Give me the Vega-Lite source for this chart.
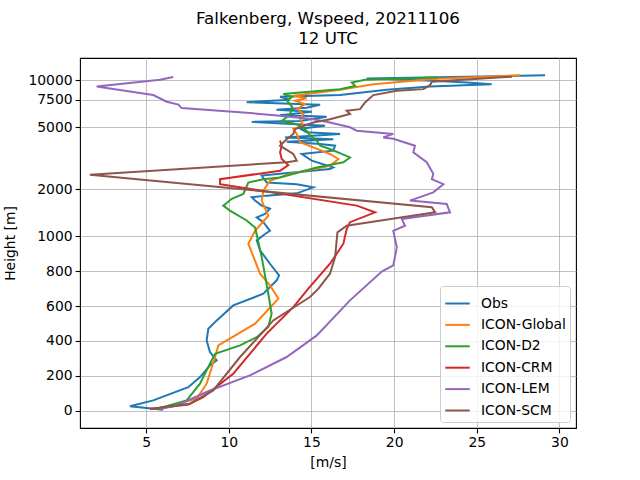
{
  "$schema": "https://vega.github.io/schema/vega-lite/v6.json",
  "width": 496,
  "height": 370,
  "autosize": {"type": "none"},
  "padding": {"left": 80, "top": 58, "right": 64, "bottom": 52},
  "background": "white",
  "title": {
    "text": ["Falkenberg, Wspeed, 20211106", "12 UTC"],
    "font": "DejaVu Sans",
    "fontSize": 16.7,
    "fontWeight": "normal",
    "color": "black",
    "lineHeight": 20,
    "offset": 10,
    "anchor": "middle"
  },
  "config": {
    "font": "DejaVu Sans",
    "view": {"stroke": "black", "strokeWidth": 1.1},
    "axis": {
      "domain": false,
      "grid": true,
      "gridColor": "#b0b0b0",
      "gridWidth": 0.8,
      "tickColor": "black",
      "tickSize": 4.9,
      "tickWidth": 1.1,
      "labelFont": "DejaVu Sans",
      "labelFontSize": 13.9,
      "labelColor": "black",
      "labelPadding": 3,
      "titleFont": "DejaVu Sans",
      "titleFontSize": 13.9,
      "titleFontWeight": "normal",
      "titleColor": "black"
    }
  },
  "data": {
    "values": [
      {"model": "Obs", "h": 5, "s": 6.02},
      {"model": "Obs", "h": 25, "s": 4.02},
      {"model": "Obs", "h": 59, "s": 5.43},
      {"model": "Obs", "h": 135, "s": 7.55},
      {"model": "Obs", "h": 193, "s": 8.26},
      {"model": "Obs", "h": 260, "s": 8.86},
      {"model": "Obs", "h": 289, "s": 9.27},
      {"model": "Obs", "h": 336, "s": 8.86},
      {"model": "Obs", "h": 403, "s": 8.66},
      {"model": "Obs", "h": 470, "s": 8.76},
      {"model": "Obs", "h": 518, "s": 9.27},
      {"model": "Obs", "h": 604, "s": 10.27},
      {"model": "Obs", "h": 671, "s": 12.09},
      {"model": "Obs", "h": 748, "s": 12.9},
      {"model": "Obs", "h": 776, "s": 13.04},
      {"model": "Obs", "h": 843, "s": 12.49},
      {"model": "Obs", "h": 920, "s": 11.89},
      {"model": "Obs", "h": 977, "s": 11.69},
      {"model": "Obs", "h": 1040, "s": 12.19},
      {"model": "Obs", "h": 1092, "s": 12.49},
      {"model": "Obs", "h": 1235, "s": 12.09},
      {"model": "Obs", "h": 1329, "s": 11.69},
      {"model": "Obs", "h": 1397, "s": 12.19},
      {"model": "Obs", "h": 1504, "s": 12.49},
      {"model": "Obs", "h": 1579, "s": 11.99},
      {"model": "Obs", "h": 1700, "s": 11.59},
      {"model": "Obs", "h": 1784, "s": 11.39},
      {"model": "Obs", "h": 1829, "s": 12.29},
      {"model": "Obs", "h": 1892, "s": 14.11},
      {"model": "Obs", "h": 2068, "s": 15.11},
      {"model": "Obs", "h": 2174, "s": 14.11},
      {"model": "Obs", "h": 2226, "s": 12.29},
      {"model": "Obs", "h": 2457, "s": 11.99},
      {"model": "Obs", "h": 2519, "s": 13.1},
      {"model": "Obs", "h": 2711, "s": 16.12},
      {"model": "Obs", "h": 2776, "s": 16.32},
      {"model": "Obs", "h": 3064, "s": 15.02},
      {"model": "Obs", "h": 3382, "s": 14.41},
      {"model": "Obs", "h": 3549, "s": 16.32},
      {"model": "Obs", "h": 3822, "s": 16.43},
      {"model": "Obs", "h": 3918, "s": 15.52},
      {"model": "Obs", "h": 4053, "s": 13.5},
      {"model": "Obs", "h": 4205, "s": 16.32},
      {"model": "Obs", "h": 4319, "s": 13.4},
      {"model": "Obs", "h": 4541, "s": 16.73},
      {"model": "Obs", "h": 4649, "s": 14.71},
      {"model": "Obs", "h": 4909, "s": 14.31},
      {"model": "Obs", "h": 5131, "s": 15.82},
      {"model": "Obs", "h": 5442, "s": 11.39},
      {"model": "Obs", "h": 5523, "s": 14.31},
      {"model": "Obs", "h": 5860, "s": 15.92},
      {"model": "Obs", "h": 5991, "s": 13.1},
      {"model": "Obs", "h": 6305, "s": 15.02},
      {"model": "Obs", "h": 6494, "s": 12.88},
      {"model": "Obs", "h": 6689, "s": 14.71},
      {"model": "Obs", "h": 6991, "s": 15.52},
      {"model": "Obs", "h": 7253, "s": 11.08},
      {"model": "Obs", "h": 7525, "s": 13.7},
      {"model": "Obs", "h": 7865, "s": 13.1},
      {"model": "Obs", "h": 8066, "s": 16.73},
      {"model": "Obs", "h": 8721, "s": 19.55},
      {"model": "Obs", "h": 9155, "s": 22.17},
      {"model": "Obs", "h": 9484, "s": 25.9},
      {"model": "Obs", "h": 9710, "s": 24.39},
      {"model": "Obs", "h": 9956, "s": 22.37},
      {"model": "Obs", "h": 10299, "s": 18.34},
      {"model": "Obs", "h": 10827, "s": 29.13},

      {"model": "ICON-Global", "h": 10, "s": 5.64},
      {"model": "ICON-Global", "h": 69, "s": 8.06},
      {"model": "ICON-Global", "h": 155, "s": 8.66},
      {"model": "ICON-Global", "h": 308, "s": 9.17},
      {"model": "ICON-Global", "h": 375, "s": 9.37},
      {"model": "ICON-Global", "h": 499, "s": 11.59},
      {"model": "ICON-Global", "h": 643, "s": 13.0},
      {"model": "ICON-Global", "h": 719, "s": 12.49},
      {"model": "ICON-Global", "h": 786, "s": 11.89},
      {"model": "ICON-Global", "h": 958, "s": 11.18},
      {"model": "ICON-Global", "h": 1092, "s": 11.59},
      {"model": "ICON-Global", "h": 1363, "s": 12.39},
      {"model": "ICON-Global", "h": 1700, "s": 11.99},
      {"model": "ICON-Global", "h": 1970, "s": 12.09},
      {"model": "ICON-Global", "h": 2282, "s": 12.49},
      {"model": "ICON-Global", "h": 2519, "s": 13.7},
      {"model": "ICON-Global", "h": 2847, "s": 16.12},
      {"model": "ICON-Global", "h": 3142, "s": 16.63},
      {"model": "ICON-Global", "h": 3382, "s": 16.12},
      {"model": "ICON-Global", "h": 3727, "s": 15.11},
      {"model": "ICON-Global", "h": 4011, "s": 14.31},
      {"model": "ICON-Global", "h": 4541, "s": 14.11},
      {"model": "ICON-Global", "h": 4887, "s": 13.9},
      {"model": "ICON-Global", "h": 5131, "s": 14.51},
      {"model": "ICON-Global", "h": 5689, "s": 14.31},
      {"model": "ICON-Global", "h": 6095, "s": 14.51},
      {"model": "ICON-Global", "h": 6561, "s": 14.13},
      {"model": "ICON-Global", "h": 7063, "s": 14.61},
      {"model": "ICON-Global", "h": 7416, "s": 14.01},
      {"model": "ICON-Global", "h": 7692, "s": 14.71},
      {"model": "ICON-Global", "h": 7982, "s": 13.9},
      {"model": "ICON-Global", "h": 8721, "s": 16.73},
      {"model": "ICON-Global", "h": 9484, "s": 18.74},
      {"model": "ICON-Global", "h": 10209, "s": 22.37},
      {"model": "ICON-Global", "h": 10827, "s": 27.62},

      {"model": "ICON-D2", "h": 10, "s": 5.64},
      {"model": "ICON-D2", "h": 59, "s": 7.45},
      {"model": "ICON-D2", "h": 155, "s": 8.26},
      {"model": "ICON-D2", "h": 270, "s": 8.86},
      {"model": "ICON-D2", "h": 327, "s": 9.17},
      {"model": "ICON-D2", "h": 375, "s": 10.68},
      {"model": "ICON-D2", "h": 422, "s": 11.69},
      {"model": "ICON-D2", "h": 480, "s": 12.39},
      {"model": "ICON-D2", "h": 557, "s": 12.59},
      {"model": "ICON-D2", "h": 671, "s": 12.39},
      {"model": "ICON-D2", "h": 881, "s": 11.99},
      {"model": "ICON-D2", "h": 1147, "s": 11.59},
      {"model": "ICON-D2", "h": 1266, "s": 11.08},
      {"model": "ICON-D2", "h": 1467, "s": 10.07},
      {"model": "ICON-D2", "h": 1579, "s": 9.67},
      {"model": "ICON-D2", "h": 1742, "s": 10.18},
      {"model": "ICON-D2", "h": 1876, "s": 10.88},
      {"model": "ICON-D2", "h": 2226, "s": 11.18},
      {"model": "ICON-D2", "h": 2340, "s": 12.09},
      {"model": "ICON-D2", "h": 2396, "s": 13.1},
      {"model": "ICON-D2", "h": 2776, "s": 15.32},
      {"model": "ICON-D2", "h": 2988, "s": 16.93},
      {"model": "ICON-D2", "h": 3217, "s": 17.33},
      {"model": "ICON-D2", "h": 3640, "s": 16.12},
      {"model": "ICON-D2", "h": 3822, "s": 15.52},
      {"model": "ICON-D2", "h": 4113, "s": 15.32},
      {"model": "ICON-D2", "h": 4428, "s": 14.91},
      {"model": "ICON-D2", "h": 4768, "s": 14.71},
      {"model": "ICON-D2", "h": 5260, "s": 14.11},
      {"model": "ICON-D2", "h": 5523, "s": 13.2},
      {"model": "ICON-D2", "h": 6034, "s": 13.7},
      {"model": "ICON-D2", "h": 6788, "s": 13.83},
      {"model": "ICON-D2", "h": 7416, "s": 13.52},
      {"model": "ICON-D2", "h": 7865, "s": 13.83},
      {"model": "ICON-D2", "h": 8185, "s": 13.3},
      {"model": "ICON-D2", "h": 8380, "s": 14.31},
      {"model": "ICON-D2", "h": 8810, "s": 16.73},
      {"model": "ICON-D2", "h": 9250, "s": 17.64},
      {"model": "ICON-D2", "h": 9710, "s": 17.44},
      {"model": "ICON-D2", "h": 10104, "s": 18.24},
      {"model": "ICON-D2", "h": 10484, "s": 22.6},

      {"model": "ICON-CRM", "h": 10, "s": 5.23},
      {"model": "ICON-CRM", "h": 36, "s": 7.55},
      {"model": "ICON-CRM", "h": 78, "s": 8.46},
      {"model": "ICON-CRM", "h": 212, "s": 10.27},
      {"model": "ICON-CRM", "h": 442, "s": 12.29},
      {"model": "ICON-CRM", "h": 594, "s": 13.9},
      {"model": "ICON-CRM", "h": 700, "s": 14.81},
      {"model": "ICON-CRM", "h": 843, "s": 16.12},
      {"model": "ICON-CRM", "h": 958, "s": 16.93},
      {"model": "ICON-CRM", "h": 1120, "s": 17.13},
      {"model": "ICON-CRM", "h": 1235, "s": 17.33},
      {"model": "ICON-CRM", "h": 1431, "s": 18.85},
      {"model": "ICON-CRM", "h": 1579, "s": 17.74},
      {"model": "ICON-CRM", "h": 2174, "s": 9.47},
      {"model": "ICON-CRM", "h": 2340, "s": 9.47},
      {"model": "ICON-CRM", "h": 2644, "s": 13.1},
      {"model": "ICON-CRM", "h": 2876, "s": 13.6},
      {"model": "ICON-CRM", "h": 3142, "s": 13.2},
      {"model": "ICON-CRM", "h": 3462, "s": 13.1},
      {"model": "ICON-CRM", "h": 3822, "s": 13.2},
      {"model": "ICON-CRM", "h": 4113, "s": 13.1},

      {"model": "ICON-LEM", "h": 10, "s": 5.84},
      {"model": "ICON-LEM", "h": 30, "s": 6.85},
      {"model": "ICON-LEM", "h": 116, "s": 8.86},
      {"model": "ICON-LEM", "h": 203, "s": 11.28},
      {"model": "ICON-LEM", "h": 308, "s": 13.5},
      {"model": "ICON-LEM", "h": 432, "s": 15.32},
      {"model": "ICON-LEM", "h": 633, "s": 17.33},
      {"model": "ICON-LEM", "h": 800, "s": 19.27},
      {"model": "ICON-LEM", "h": 834, "s": 19.95},
      {"model": "ICON-LEM", "h": 937, "s": 20.16},
      {"model": "ICON-LEM", "h": 1092, "s": 19.95},
      {"model": "ICON-LEM", "h": 1176, "s": 20.66},
      {"model": "ICON-LEM", "h": 1298, "s": 20.46},
      {"model": "ICON-LEM", "h": 1431, "s": 23.38},
      {"model": "ICON-LEM", "h": 1619, "s": 23.18},
      {"model": "ICON-LEM", "h": 1700, "s": 20.96},
      {"model": "ICON-LEM", "h": 1920, "s": 22.37},
      {"model": "ICON-LEM", "h": 2174, "s": 22.98},
      {"model": "ICON-LEM", "h": 2340, "s": 22.28},
      {"model": "ICON-LEM", "h": 2519, "s": 22.37},
      {"model": "ICON-LEM", "h": 2988, "s": 21.97},
      {"model": "ICON-LEM", "h": 3462, "s": 21.16},
      {"model": "ICON-LEM", "h": 3822, "s": 21.26},
      {"model": "ICON-LEM", "h": 4236, "s": 19.95},
      {"model": "ICON-LEM", "h": 4319, "s": 19.34},
      {"model": "ICON-LEM", "h": 4541, "s": 19.95},
      {"model": "ICON-LEM", "h": 4768, "s": 17.74},
      {"model": "ICON-LEM", "h": 5005, "s": 17.33},
      {"model": "ICON-LEM", "h": 5387, "s": 16.12},
      {"model": "ICON-LEM", "h": 5663, "s": 15.11},
      {"model": "ICON-LEM", "h": 5945, "s": 13.1},
      {"model": "ICON-LEM", "h": 6185, "s": 11.28},
      {"model": "ICON-LEM", "h": 6660, "s": 7.15},
      {"model": "ICON-LEM", "h": 6991, "s": 6.95},
      {"model": "ICON-LEM", "h": 7307, "s": 6.25},
      {"model": "ICON-LEM", "h": 8066, "s": 5.43},
      {"model": "ICON-LEM", "h": 9155, "s": 2.01},
      {"model": "ICON-LEM", "h": 10104, "s": 5.84},
      {"model": "ICON-LEM", "h": 10561, "s": 6.64},

      {"model": "ICON-SCM", "h": 10, "s": 5.23},
      {"model": "ICON-SCM", "h": 40, "s": 7.65},
      {"model": "ICON-SCM", "h": 116, "s": 9.06},
      {"model": "ICON-SCM", "h": 308, "s": 10.68},
      {"model": "ICON-SCM", "h": 518, "s": 12.69},
      {"model": "ICON-SCM", "h": 652, "s": 14.91},
      {"model": "ICON-SCM", "h": 700, "s": 15.42},
      {"model": "ICON-SCM", "h": 786, "s": 16.12},
      {"model": "ICON-SCM", "h": 881, "s": 16.43},
      {"model": "ICON-SCM", "h": 1066, "s": 16.57},
      {"model": "ICON-SCM", "h": 1176, "s": 17.13},
      {"model": "ICON-SCM", "h": 1431, "s": 22.48},
      {"model": "ICON-SCM", "h": 1540, "s": 22.28},
      {"model": "ICON-SCM", "h": 2484, "s": 1.6},
      {"model": "ICON-SCM", "h": 2988, "s": 13.5},
      {"model": "ICON-SCM", "h": 3064, "s": 14.11},
      {"model": "ICON-SCM", "h": 3382, "s": 13.9},
      {"model": "ICON-SCM", "h": 3822, "s": 13.1},
      {"model": "ICON-SCM", "h": 4113, "s": 13.4},
      {"model": "ICON-SCM", "h": 4541, "s": 13.9},
      {"model": "ICON-SCM", "h": 4887, "s": 14.01},
      {"model": "ICON-SCM", "h": 5387, "s": 15.11},
      {"model": "ICON-SCM", "h": 5663, "s": 16.12},
      {"model": "ICON-SCM", "h": 6095, "s": 17.33},
      {"model": "ICON-SCM", "h": 6400, "s": 17.13},
      {"model": "ICON-SCM", "h": 6561, "s": 17.94},
      {"model": "ICON-SCM", "h": 7233, "s": 18.24},
      {"model": "ICON-SCM", "h": 8066, "s": 18.74},
      {"model": "ICON-SCM", "h": 8594, "s": 20.16},
      {"model": "ICON-SCM", "h": 8810, "s": 21.77},
      {"model": "ICON-SCM", "h": 9346, "s": 22.17},
      {"model": "ICON-SCM", "h": 9810, "s": 22.28},
      {"model": "ICON-SCM", "h": 10607, "s": 27.12}
    ]
  },
  "mark": {"type": "line", "strokeWidth": 2, "clip": true},
  "encoding": {
    "x": {
      "field": "s",
      "type": "quantitative",
      "title": "[m/s]",
      "scale": {"domain": [1, 31], "nice": false, "zero": false},
      "axis": {"values": [5, 10, 15, 20, 25, 30], "titlePadding": 6}
    },
    "y": {
      "field": "h",
      "type": "quantitative",
      "title": "Height [m]",
      "scale": {
        "type": "linear",
        "zero": false,
        "nice": false,
        "domain": [-99, 0, 1000, 1250, 1500, 1750, 2000, 2500, 3000, 3500, 4000, 4500, 5000, 6000, 7000, 7500, 8500, 10000, 12000, 13918],
        "range": [370, 352.7, 178.4, 163.28, 150.93, 140.49, 131.44, 116.32, 103.97, 93.53, 84.48, 76.5, 69.36, 57.01, 46.56, 41.89, 33.41, 22.4, 10.05, 0]
      },
      "axis": {"values": [0, 200, 400, 600, 800, 1000, 2000, 5000, 7500, 10000], "format": "d", "titlePadding": 10}
    },
    "color": {
      "field": "model",
      "type": "nominal",
      "sort": ["Obs", "ICON-Global", "ICON-D2", "ICON-CRM", "ICON-LEM", "ICON-SCM"],
      "scale": {
        "domain": ["Obs", "ICON-Global", "ICON-D2", "ICON-CRM", "ICON-LEM", "ICON-SCM"],
        "range": ["#1f77b4", "#ff7f0e", "#2ca02c", "#d62728", "#9467bd", "#8c564b"]
      },
      "legend": {
        "title": null,
        "orient": "bottom-right",
        "offset": 6,
        "padding": 4,
        "strokeColor": "#cccccc",
        "fillColor": "rgba(255,255,255,0.8)",
        "cornerRadius": 3,
        "symbolType": "stroke",
        "symbolSize": 600,
        "symbolStrokeWidth": 2,
        "labelFontSize": 13.9,
        "labelFont": "DejaVu Sans",
        "labelColor": "black",
        "labelOffset": 10,
        "rowPadding": 0.4
      }
    },
    "order": {"field": "h", "type": "quantitative"}
  }
}
